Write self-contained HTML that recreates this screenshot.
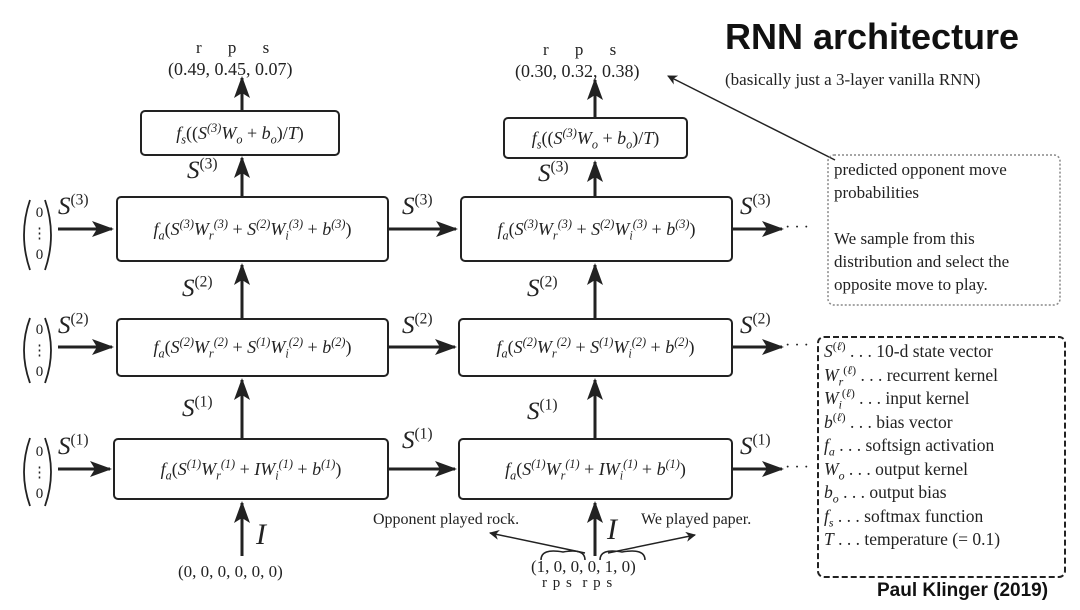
<!DOCTYPE html>
<html><head><meta charset="utf-8"><style>
body{margin:0;width:1080px;height:610px;background:#fff;position:relative;overflow:hidden;font-family:"Liberation Serif",serif;color:#222}
.a{position:absolute;white-space:nowrap}
.box{position:absolute;border:2.5px solid #222;border-radius:5px;box-sizing:border-box;display:flex;align-items:center;justify-content:center;font-size:18px;font-style:italic;white-space:nowrap}
.box span.n{font-style:normal}
sup,sub{font-size:68%;line-height:0}
.sl{position:absolute;font-style:italic;font-size:25px;white-space:nowrap}
.sl sup{font-style:normal;font-size:62%}
.lg{font-size:17.5px;line-height:23.5px}
</style></head><body>
<svg width="1080" height="610" style="position:absolute;left:0;top:0">
<defs><marker id="m" markerWidth="10" markerHeight="10" refX="9" refY="5" orient="auto" markerUnits="userSpaceOnUse"><path d="M0,0 L10,5 L0,10 L3,5z" fill="#222"/></marker>
<marker id="t" markerWidth="22" markerHeight="16" refX="20" refY="8" orient="auto" markerUnits="userSpaceOnUse"><path d="M0,0 L22,8 L0,16 L5,8z" fill="#222"/></marker></defs>
<g stroke="#222" stroke-width="3" fill="none">
<line x1="58" y1="229" x2="112" y2="229" marker-end="url(#t)"/>
<line x1="58" y1="347" x2="112" y2="347" marker-end="url(#t)"/>
<line x1="58" y1="469" x2="110" y2="469" marker-end="url(#t)"/>
<line x1="389" y1="229" x2="456" y2="229" marker-end="url(#t)"/>
<line x1="389" y1="347" x2="455" y2="347" marker-end="url(#t)"/>
<line x1="389" y1="469" x2="455" y2="469" marker-end="url(#t)"/>
<line x1="733" y1="229" x2="782" y2="229" marker-end="url(#t)"/>
<line x1="733" y1="347" x2="782" y2="347" marker-end="url(#t)"/>
<line x1="733" y1="469" x2="782" y2="469" marker-end="url(#t)"/>
<line x1="242" y1="556" x2="242" y2="503" marker-end="url(#t)"/>
<line x1="595" y1="556" x2="595" y2="503" marker-end="url(#t)"/>
<line x1="242" y1="438" x2="242" y2="380" marker-end="url(#t)"/>
<line x1="595" y1="438" x2="595" y2="380" marker-end="url(#t)"/>
<line x1="242" y1="318" x2="242" y2="265" marker-end="url(#t)"/>
<line x1="595" y1="318" x2="595" y2="265" marker-end="url(#t)"/>
<line x1="242" y1="196" x2="242" y2="158" marker-end="url(#t)"/>
<line x1="595" y1="196" x2="595" y2="162" marker-end="url(#t)"/>
<line x1="242" y1="110" x2="242" y2="78" marker-end="url(#t)"/>
<line x1="595" y1="117" x2="595" y2="80" marker-end="url(#t)"/>
</g>
<g stroke="#222" stroke-width="1.8" fill="none">
<path d="M30,200 Q18,235 30,270"/><path d="M45,200 Q57,235 45,270"/>
<path d="M30,318 Q18,350 30,383"/><path d="M45,318 Q57,350 45,383"/>
<path d="M30,438 Q18,472 30,506"/><path d="M45,438 Q57,472 45,506"/>
</g>
<g stroke="#222" stroke-width="1.5" fill="none">
<line x1="835" y1="160" x2="668" y2="76" marker-end="url(#m)"/>
<line x1="585" y1="553" x2="490" y2="533" marker-end="url(#m)"/>
<line x1="608" y1="553" x2="695" y2="535" marker-end="url(#m)"/>
<path d="M541,560 Q541,548 563,552 Q585,548 585,560"/>
<path d="M600,560 Q600,548 622,552 Q645,548 645,560"/>
<rect x="828" y="155" width="232" height="150" rx="6" stroke="#888" stroke-dasharray="2,2"/>
<rect x="818" y="337" width="247" height="240" rx="6" stroke="#222" stroke-width="2" stroke-dasharray="6,3"/>
</g>
</svg>

<div class="a" style="left:725px;top:16px;font-family:'Liberation Sans',sans-serif;font-weight:bold;font-size:36px;color:#111">RNN architecture</div>
<div class="a" style="left:725px;top:70px;font-size:17px">(basically just a 3-layer vanilla RNN)</div>

<div class="a" style="left:196px;top:38px;font-size:17px;word-spacing:22px">r p s</div>
<div class="a" style="left:168px;top:59px;font-size:18px">(0.49, 0.45, 0.07)</div>
<div class="a" style="left:543px;top:40px;font-size:17px;word-spacing:22px">r p s</div>
<div class="a" style="left:515px;top:61px;font-size:18px">(0.30, 0.32, 0.38)</div>

<div class="box" style="left:140px;top:110px;width:200px;height:46px"><span>f<sub>s</sub><span class="n">((</span>S<sup class="n">(3)</sup>W<sub>o</sub>&nbsp;<span class="n">+</span>&nbsp;b<sub>o</sub><span class="n">)/</span>T<span class="n">)</span></span></div>
<div class="box" style="left:503px;top:117px;width:185px;height:42px"><span>f<sub>s</sub><span class="n">((</span>S<sup class="n">(3)</sup>W<sub>o</sub>&nbsp;<span class="n">+</span>&nbsp;b<sub>o</sub><span class="n">)/</span>T<span class="n">)</span></span></div>

<div class="box" style="left:116px;top:196px;width:273px;height:66px"><span>f<sub>a</sub><span class="n">(</span>S<sup class="n">(3)</sup>W<sub>r</sub><sup class="n">(3)</sup>&nbsp;<span class="n">+</span>&nbsp;S<sup class="n">(2)</sup>W<sub>i</sub><sup class="n">(3)</sup>&nbsp;<span class="n">+</span>&nbsp;b<sup class="n">(3)</sup><span class="n">)</span></span></div>
<div class="box" style="left:460px;top:196px;width:273px;height:66px"><span>f<sub>a</sub><span class="n">(</span>S<sup class="n">(3)</sup>W<sub>r</sub><sup class="n">(3)</sup>&nbsp;<span class="n">+</span>&nbsp;S<sup class="n">(2)</sup>W<sub>i</sub><sup class="n">(3)</sup>&nbsp;<span class="n">+</span>&nbsp;b<sup class="n">(3)</sup><span class="n">)</span></span></div>
<div class="box" style="left:116px;top:318px;width:273px;height:59px"><span>f<sub>a</sub><span class="n">(</span>S<sup class="n">(2)</sup>W<sub>r</sub><sup class="n">(2)</sup>&nbsp;<span class="n">+</span>&nbsp;S<sup class="n">(1)</sup>W<sub>i</sub><sup class="n">(2)</sup>&nbsp;<span class="n">+</span>&nbsp;b<sup class="n">(2)</sup><span class="n">)</span></span></div>
<div class="box" style="left:458px;top:318px;width:275px;height:59px"><span>f<sub>a</sub><span class="n">(</span>S<sup class="n">(2)</sup>W<sub>r</sub><sup class="n">(2)</sup>&nbsp;<span class="n">+</span>&nbsp;S<sup class="n">(1)</sup>W<sub>i</sub><sup class="n">(2)</sup>&nbsp;<span class="n">+</span>&nbsp;b<sup class="n">(2)</sup><span class="n">)</span></span></div>
<div class="box" style="left:113px;top:438px;width:276px;height:62px"><span>f<sub>a</sub><span class="n">(</span>S<sup class="n">(1)</sup>W<sub>r</sub><sup class="n">(1)</sup>&nbsp;<span class="n">+</span>&nbsp;IW<sub>i</sub><sup class="n">(1)</sup>&nbsp;<span class="n">+</span>&nbsp;b<sup class="n">(1)</sup><span class="n">)</span></span></div>
<div class="box" style="left:458px;top:438px;width:275px;height:62px"><span>f<sub>a</sub><span class="n">(</span>S<sup class="n">(1)</sup>W<sub>r</sub><sup class="n">(1)</sup>&nbsp;<span class="n">+</span>&nbsp;IW<sub>i</sub><sup class="n">(1)</sup>&nbsp;<span class="n">+</span>&nbsp;b<sup class="n">(1)</sup><span class="n">)</span></span></div>

<div class="a" style="left:32px;top:203px;font-size:15px;line-height:21px;text-align:center">0<br>⋮<br>0</div>
<div class="a" style="left:32px;top:320px;font-size:15px;line-height:21px;text-align:center">0<br>⋮<br>0</div>
<div class="a" style="left:32px;top:442px;font-size:15px;line-height:21px;text-align:center">0<br>⋮<br>0</div>

<div class="sl" style="left:58px;top:193px">S<sup>(3)</sup></div>
<div class="sl" style="left:58px;top:312px">S<sup>(2)</sup></div>
<div class="sl" style="left:58px;top:433px">S<sup>(1)</sup></div>
<div class="sl" style="left:402px;top:193px">S<sup>(3)</sup></div>
<div class="sl" style="left:402px;top:312px">S<sup>(2)</sup></div>
<div class="sl" style="left:402px;top:427px">S<sup>(1)</sup></div>
<div class="sl" style="left:740px;top:193px">S<sup>(3)</sup></div>
<div class="sl" style="left:740px;top:312px">S<sup>(2)</sup></div>
<div class="sl" style="left:740px;top:433px">S<sup>(1)</sup></div>
<div class="a" style="left:785px;top:219px;font-size:16px">· · ·</div>
<div class="a" style="left:785px;top:337px;font-size:16px">· · ·</div>
<div class="a" style="left:785px;top:459px;font-size:16px">· · ·</div>
<div class="sl" style="left:187px;top:157px">S<sup>(3)</sup></div>
<div class="sl" style="left:538px;top:160px">S<sup>(3)</sup></div>
<div class="sl" style="left:182px;top:275px">S<sup>(2)</sup></div>
<div class="sl" style="left:527px;top:275px">S<sup>(2)</sup></div>
<div class="sl" style="left:182px;top:395px">S<sup>(1)</sup></div>
<div class="sl" style="left:527px;top:398px">S<sup>(1)</sup></div>
<div class="sl" style="left:256px;top:518px;font-size:30px">I</div>
<div class="sl" style="left:607px;top:513px;font-size:30px">I</div>
<div class="a" style="left:178px;top:562px;font-size:17px">(0, 0, 0, 0, 0, 0)</div>
<div class="a" style="left:373px;top:511px;font-size:16px">Opponent played rock.</div>
<div class="a" style="left:641px;top:511px;font-size:16px">We played paper.</div>
<div class="a" style="left:531px;top:557px;font-size:17px">(1, 0, 0, 0, 1, 0)</div>
<div class="a" style="left:542px;top:575px;font-size:15px;letter-spacing:1px">r p s&nbsp; r p s</div>

<div class="a" style="left:834px;top:158px;font-size:17px;line-height:23px">predicted opponent move<br>probabilities<br><br>We sample from this<br>distribution and select the<br>opposite move to play.</div>

<div class="a lg" style="left:824px;top:340px">
<i>S</i><sup>(<i>ℓ</i>)</sup> . . . 10-d state vector<br>
<i>W<sub>r</sub></i><sup>(<i>ℓ</i>)</sup> . . . recurrent kernel<br>
<i>W<sub>i</sub></i><sup>(<i>ℓ</i>)</sup> . . . input kernel<br>
<i>b</i><sup>(<i>ℓ</i>)</sup> . . . bias vector<br>
<i>f<sub>a</sub></i> . . . softsign activation<br>
<i>W<sub>o</sub></i> . . . output kernel<br>
<i>b<sub>o</sub></i> . . . output bias<br>
<i>f<sub>s</sub></i> . . . softmax function<br>
<i>T</i> . . . temperature (= 0.1)</div>
<div class="a" style="left:877px;top:580px;font-family:'Liberation Sans',sans-serif;font-weight:bold;font-size:19px;color:#111">Paul Klinger (2019)</div>
</body></html>
